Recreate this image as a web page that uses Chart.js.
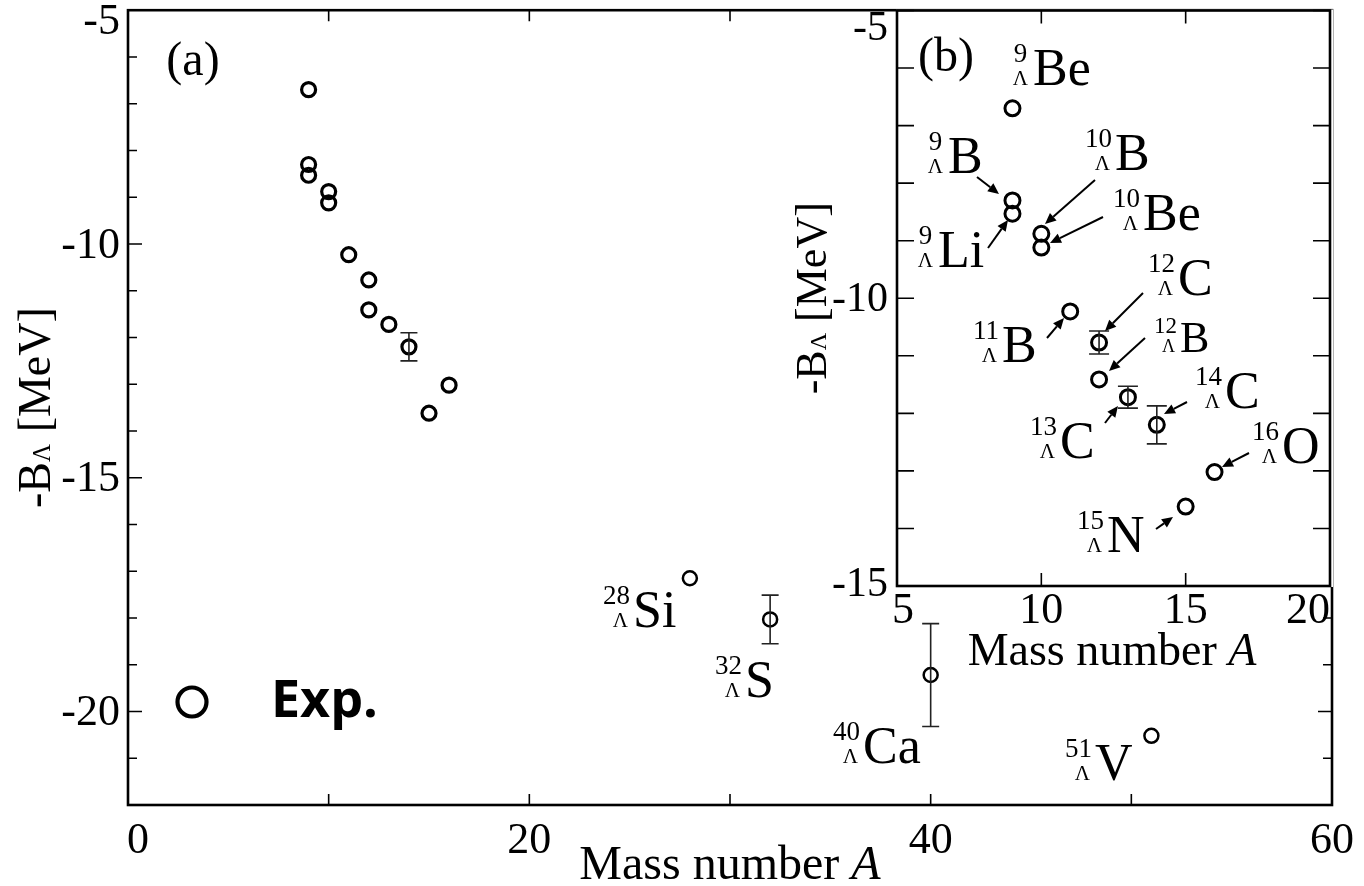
<!DOCTYPE html>
<html><head><meta charset="utf-8">
<script src="https://cdn.jsdelivr.net/npm/chart.js@4.4.1/dist/chart.umd.min.js"></script>
<style>
html,body{margin:0;padding:0;background:#fff;width:1364px;height:886px;overflow:hidden}
#main{position:absolute;left:0;top:0}
#inset{position:absolute;left:760px;top:0}
</style></head><body>
<canvas id="main" width="1364" height="886"></canvas>
<canvas id="inset" width="604" height="700"></canvas>
<script>
// ---------------- data ----------------
const lightMass  = [9, 9, 9, 10, 10, 11, 12, 12, 13, 14, 15, 16];
const lightElem  = ['Be','B','Li','B','Be','B','C','B','C','C','N','O'];
const lightBL    = [-6.70, -8.30, -8.53, -8.88, -9.12, -10.23, -10.77, -11.41, -11.72, -12.20, -13.62, -13.02];
const lightErrMain  = [null,null,null,null,null,null,null,null,null,0.30,null,null];
const lightErrInset = [null,null,null,null,null,null,0.20,null,0.19,0.33,null,null];
const heavyMass  = [28, 32, 40, 51];
const heavyElem  = ['Si','S','Ca','V'];
const heavyBL    = [-17.15, -18.03, -19.22, -20.52];
const heavyErr   = [null, 0.52, 1.10, null];
const mainXTicks = [0, 20, 40, 60];
const mainYTicks = [-5, -10, -15, -20];
const insetXTicks = [5, 10, 15, 20];
const insetYTicks = [-5, -10, -15];

const SERIF = '"Liberation Serif", "DejaVu Serif", serif';
const INSET_OX = 760;

// label placement (page coordinates): [index, elemLeft, baseline, size]
const heavyLabelPos = [[0,633,627,52],[1,745,697,52],[2,863,763,52],[3,1095,780,52]];
const insetLabelPos = [[0,1033,85,52],[1,948,173,52],[2,938,267,52],[3,1115,170,52],[4,1143,230,52],
  [5,1002,362,52],[6,1178,295,52],[7,1180,352,44],[8,1060,458,52],[9,1225,408,52],[11,1282,463,52],[10,1107,552,52]];
const insetArrows = [[977,177,999,194],[988,248,1008,220],[1095,180,1045,224],[1103,217,1050,243],
  [1143,293,1105,331],[1047,338,1064,318],[1145,338,1109,371],[1187,402,1164,414],[1105,423,1118,406],
  [1249,453,1222,467],[1156,529,1173,517]];

function pts(xs, ys){ return xs.map((x,i)=>({x:x, y:ys[i]})); }

function nuclide(ctx, left, base, mass, el, size){
  ctx.save();
  ctx.fillStyle = '#000';
  ctx.textBaseline = 'alphabetic';
  ctx.font = size + 'px ' + SERIF;
  ctx.textAlign = 'left';
  ctx.fillText(el, left, base);
  const lamSize = Math.round(size*0.40), numSize = Math.round(size*0.52);
  ctx.font = lamSize + 'px ' + SERIF;
  const lw = ctx.measureText('Λ').width;
  const lamRight = left - 5;
  ctx.textAlign = 'right';
  ctx.fillText('Λ', lamRight, base);
  ctx.font = numSize + 'px ' + SERIF;
  const nw = ctx.measureText(String(mass)).width;
  if (nw < lw) { ctx.textAlign='center'; ctx.fillText(String(mass), lamRight - lw/2, base - size*0.44); }
  else { ctx.textAlign='right'; ctx.fillText(String(mass), left - 3, base - size*0.44); }
  ctx.restore();
}

function arrow(ctx, x1, y1, x2, y2){
  ctx.save();
  ctx.strokeStyle = '#000'; ctx.fillStyle = '#000'; ctx.lineWidth = 2;
  const ang = Math.atan2(y2-y1, x2-x1), L = 11, W = 5;
  const bx = x2 - L*Math.cos(ang), by = y2 - L*Math.sin(ang);
  ctx.beginPath(); ctx.moveTo(x1,y1); ctx.lineTo(bx,by); ctx.stroke();
  ctx.beginPath(); ctx.moveTo(x2,y2);
  ctx.lineTo(bx + W*Math.sin(ang), by - W*Math.cos(ang));
  ctx.lineTo(bx - W*Math.sin(ang), by + W*Math.cos(ang));
  ctx.closePath(); ctx.fill();
  ctx.restore();
}

function errorBars(ctx, chart, xs, ys, es, cap, lw){
  const sx = chart.scales.x, sy = chart.scales.y;
  ctx.save(); ctx.strokeStyle = '#222'; ctx.lineWidth = lw;
  xs.forEach((x,i)=>{
    if (es[i] == null) return;
    const px = sx.getPixelForValue(x);
    const p1 = sy.getPixelForValue(ys[i]+es[i]), p2 = sy.getPixelForValue(ys[i]-es[i]);
    ctx.beginPath();
    ctx.moveTo(px, p1); ctx.lineTo(px, p2);
    ctx.moveTo(px-cap/2, p1); ctx.lineTo(px+cap/2, p1);
    ctx.moveTo(px-cap/2, p2); ctx.lineTo(px+cap/2, p2);
    ctx.stroke();
  });
  ctx.restore();
}

function rotText(ctx, parts, cx, baseX, fontSize){
  ctx.save();
  ctx.translate(baseX, cx);
  ctx.rotate(-Math.PI/2);
  let total = 0;
  parts.forEach(p=>{ ctx.font = Math.round(fontSize*p[1]) + 'px ' + SERIF; total += ctx.measureText(p[0]).width; });
  let x = -total/2;
  ctx.fillStyle = '#000'; ctx.textAlign = 'left'; ctx.textBaseline = 'alphabetic';
  parts.forEach(p=>{ ctx.font = Math.round(fontSize*p[1]) + 'px ' + SERIF; ctx.fillText(p[0], x, 0); x += ctx.measureText(p[0]).width; });
  ctx.restore();
}

function massTitle(ctx, cx, base, size){
  ctx.save();
  ctx.fillStyle = '#000'; ctx.textBaseline = 'alphabetic'; ctx.textAlign = 'left';
  ctx.font = size + 'px ' + SERIF;
  const w1 = ctx.measureText('Mass number ').width;
  ctx.font = 'italic ' + size + 'px ' + SERIF;
  const w2 = ctx.measureText('A').width;
  const x0 = cx - (w1+w2)/2;
  ctx.font = size + 'px ' + SERIF; ctx.fillText('Mass number ', x0, base);
  ctx.font = 'italic ' + size + 'px ' + SERIF; ctx.fillText('A', x0 + w1, base);
  ctx.restore();
}

// ---------------- main chart ----------------
const mainDecor = {
  id: 'mainDecor',
  afterDatasetsDraw(chart){
    const ctx = chart.ctx, a = chart.chartArea, sx = chart.scales.x, sy = chart.scales.y;
    errorBars(ctx, chart, lightMass, lightBL, lightErrMain, 17, 1.6);
    errorBars(ctx, chart, heavyMass, heavyBL, heavyErr, 17, 1.6);
    ctx.save();
    ctx.strokeStyle = '#000'; ctx.lineWidth = 1.6;
    ctx.beginPath();
    for (let v = -22; v <= -5; v++){
      const py = sy.getPixelForValue(v), L = (v % 5 === 0) ? 14 : 9;
      ctx.moveTo(a.left, py); ctx.lineTo(a.left + L, py);
      ctx.moveTo(a.right, py); ctx.lineTo(a.right - L, py);
    }
    for (let v = 0; v <= 60; v += 10){
      const px = sx.getPixelForValue(v);
      ctx.moveTo(px, a.bottom); ctx.lineTo(px, a.bottom - 11);
      ctx.moveTo(px, a.top); ctx.lineTo(px, a.top + 11);
    }
    ctx.stroke();
    ctx.lineWidth = 2.6;
    ctx.strokeRect(a.left, a.top, a.right - a.left, a.bottom - a.top);
    ctx.fillStyle = '#000';
    ctx.font = '44px ' + SERIF;
    ctx.textAlign = 'right'; ctx.textBaseline = 'middle';
    mainYTicks.forEach(v=>{
      const py = Math.max(sy.getPixelForValue(v), a.top + 10);
      ctx.fillText(String(v), a.left - 8, py + 2);
    });
    ctx.textAlign = 'center'; ctx.textBaseline = 'alphabetic';
    mainXTicks.forEach(v=>{
      const w = ctx.measureText(String(v)).width;
      const px = Math.max(sx.getPixelForValue(v), a.left + w/2 - 1);
      ctx.fillText(String(v), px, 853);
    });
    ctx.restore();
    massTitle(ctx, (a.left + a.right)/2, 879, 48);
    rotText(ctx, [['-B',1],['Λ',0.55],[' [MeV]',1]], (a.top + a.bottom)/2, 50, 46);
    ctx.save(); ctx.fillStyle='#000'; ctx.font = '48px ' + SERIF; ctx.textAlign='center'; ctx.textBaseline='middle';
    ctx.fillText('(a)', 193, 62); ctx.restore();
    ctx.save();
    ctx.strokeStyle = '#000'; ctx.lineWidth = 4.2;
    ctx.beginPath(); ctx.arc(192, 702, 14.5, 0, Math.PI*2); ctx.stroke();
    ctx.fillStyle = '#000'; ctx.font = 'bold 52px "Open Sans", "Noto Sans", sans-serif';
    ctx.textAlign = 'left'; ctx.textBaseline = 'alphabetic';
    ctx.fillText('Exp.', 271, 717);
    ctx.restore();
    heavyLabelPos.forEach(p=>nuclide(ctx, p[1], p[2], heavyMass[p[0]], heavyElem[p[0]], p[3]));
  }
};

new Chart(document.getElementById('main'), {
  type: 'scatter',
  data: { datasets: [
    { label: 'Exp.', data: pts(lightMass, lightBL), pointRadius: 7, pointBorderWidth: 3.2,
      pointBackgroundColor: 'rgba(0,0,0,0)', pointBorderColor: '#000', pointHoverRadius: 7 },
    { label: 'Exp. heavy', data: pts(heavyMass, heavyBL), pointRadius: 7, pointBorderWidth: 2.5,
      pointBackgroundColor: 'rgba(0,0,0,0)', pointBorderColor: '#000', pointHoverRadius: 7 }
  ]},
  options: {
    responsive: false, animation: false, events: [],
    layout: { padding: { left: 128, right: 32, top: 8, bottom: 81 } },
    plugins: { legend: { display: false }, tooltip: { enabled: false } },
    scales: {
      x: { type: 'linear', min: 0, max: 60, display: false },
      y: { type: 'linear', min: -22, max: -5, display: false }
    }
  },
  plugins: [mainDecor]
});

// ---------------- inset chart ----------------
const insetDecor = {
  id: 'insetDecor',
  beforeDatasetsDraw(chart){
    const ctx = chart.ctx, a = chart.chartArea;
    ctx.save(); ctx.fillStyle = '#fff';
    ctx.fillRect(a.left - 1, a.top - 1, a.right - a.left + 4, a.bottom - a.top + 2);
    ctx.restore();
  },
  afterDatasetsDraw(chart){
    const ctx = chart.ctx, a = chart.chartArea, sx = chart.scales.x, sy = chart.scales.y;
    errorBars(ctx, chart, lightMass, lightBL, lightErrInset, 20, 1.6);
    ctx.save();
    ctx.strokeStyle = '#000'; ctx.lineWidth = 1.6;
    ctx.beginPath();
    for (let v = -15; v <= -5; v++){
      const py = sy.getPixelForValue(v);
      ctx.moveTo(a.left, py); ctx.lineTo(a.left + 17, py);
      ctx.moveTo(a.right, py); ctx.lineTo(a.right - 17, py);
    }
    for (let v = 5; v <= 20; v += 5){
      const px = sx.getPixelForValue(v);
      ctx.moveTo(px, a.bottom); ctx.lineTo(px, a.bottom - 13);
      ctx.moveTo(px, a.top); ctx.lineTo(px, a.top + 13);
    }
    ctx.stroke();
    ctx.lineWidth = 2.6;
    ctx.strokeRect(a.left, a.top, a.right - a.left, a.bottom - a.top);
    ctx.fillStyle = '#000';
    ctx.font = '42px ' + SERIF;
    ctx.textAlign = 'right'; ctx.textBaseline = 'middle';
    insetYTicks.forEach(v=>{
      const py = Math.min(Math.max(sy.getPixelForValue(v), a.top + 16), a.bottom - 3);
      ctx.fillText(String(v), a.left - 9, py + 2);
    });
    ctx.font = '44px ' + SERIF;
    ctx.textAlign = 'center'; ctx.textBaseline = 'alphabetic';
    insetXTicks.forEach(v=>{
      const w = ctx.measureText(String(v)).width;
      const px = Math.min(Math.max(sx.getPixelForValue(v), a.left + w/2 - 5), a.right - w/2);
      ctx.fillText(String(v), px, 623);
    });
    ctx.restore();
    massTitle(ctx, 1112 - INSET_OX, 665, 46);
    rotText(ctx, [['-B',1],['Λ',0.55],[' [MeV]',1]], (a.top + a.bottom)/2, 826 - INSET_OX, 44);
    ctx.save(); ctx.fillStyle='#000'; ctx.font = '48px ' + SERIF; ctx.textAlign='center'; ctx.textBaseline='middle';
    ctx.fillText('(b)', 946 - INSET_OX, 58); ctx.restore();
    ctx.save(); ctx.translate(-INSET_OX, 0);
    insetLabelPos.forEach(p=>nuclide(ctx, p[1], p[2], lightMass[p[0]], lightElem[p[0]], p[3]));
    insetArrows.forEach(r=>arrow(ctx, r[0], r[1], r[2], r[3]));
    ctx.restore();
  }
};

new Chart(document.getElementById('inset'), {
  type: 'scatter',
  data: { datasets: [
    { label: 'Exp.', data: pts(lightMass, lightBL), pointRadius: 7.5, pointBorderWidth: 3,
      pointBackgroundColor: 'rgba(0,0,0,0)', pointBorderColor: '#000', pointHoverRadius: 7.5 }
  ]},
  options: {
    responsive: false, animation: false, events: [],
    layout: { padding: { left: 897 - INSET_OX, right: 604 - (1330 - INSET_OX), top: 7, bottom: 700 - 586 } },
    plugins: { legend: { display: false }, tooltip: { enabled: false } },
    scales: {
      x: { type: 'linear', min: 5, max: 20, display: false },
      y: { type: 'linear', min: -15, max: -5, display: false }
    }
  },
  plugins: [insetDecor]
});
</script>
</body></html>
